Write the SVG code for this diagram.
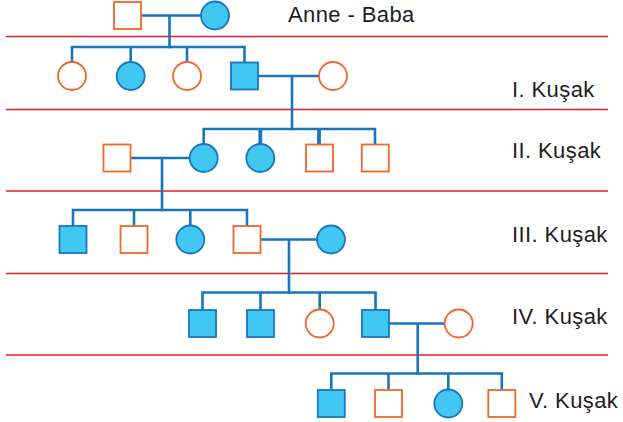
<svg xmlns="http://www.w3.org/2000/svg" width="623" height="422" viewBox="0 0 623 422">
  <style>
    .gen { stroke: #e41f28; stroke-width: 1.5; fill: none; }
    .link { stroke: #1a76bc; stroke-width: 2.6; fill: none; stroke-linecap: square; }
    .thick { stroke: #1a76bc; stroke-width: 3.8; fill: none; }
    .af { fill: #42c6f2; stroke: #1a76bc; stroke-width: 1.8; }
    .un { fill: #ffffff; stroke: #f2662a; stroke-width: 1.8; }
    .label { font-family: "Liberation Sans", Arial, Helvetica, sans-serif; font-size: 22px; letter-spacing: 0.4px; fill: #1f1c1d; }
  </style>
  <defs>
    <rect id="sq" x="-13.5" y="-13.5" width="27" height="27"/>
    <circle id="ci" cx="0" cy="0" r="14"/>
  </defs>

  <!-- generation separators -->
  <g id="separators">
    <line class="gen" x1="6" y1="36.5" x2="608" y2="36.5"/>
    <line class="gen" x1="6" y1="109.5" x2="608" y2="109.5"/>
    <line class="gen" x1="6" y1="191" x2="608" y2="191"/>
    <line class="gen" x1="6" y1="273.5" x2="608" y2="273.5"/>
    <line class="gen" x1="6" y1="355" x2="608" y2="355"/>
  </g>

  <!-- connectors -->
  <g id="connectors">
    <!-- parents -->
    <path class="link" d="M141 15.5 H201 M169.5 15.5 V47"/>
    <path class="link" d="M72 62 V47 H244.5 V62.5 M130.7 47 V62 M187 47 V62"/>
    <!-- generation I -->
    <path class="link" d="M258 76 H319 M292 76 V129"/>
    <path class="link" d="M203.7 144 V129 H375 V144.5"/>
    <path class="thick" d="M260.3 129 V144 M319 129 V144.5"/>
    <!-- generation II -->
    <path class="link" d="M131 158 H190 M162 158 V210"/>
    <path class="link" d="M73 226 V210 H247 V226 M134 210 V226 M190.3 210 V225.5"/>
    <!-- generation III -->
    <path class="link" d="M260.5 239.5 H317 M289 239.5 V292.5"/>
    <path class="link" d="M202.5 310 V292.5 H375.5 V310 M260.5 292.5 V310 M319.7 292.5 V309.5"/>
    <!-- generation IV -->
    <path class="link" d="M389 323.5 H444.7 M417.7 323.5 V373.5"/>
    <path class="link" d="M331.3 390 V373.5 H501.8 V390 M388.5 373.5 V390 M448.3 373.5 V389.5"/>
  </g>

  <!-- parents -->
  <g id="p-father"><use href="#sq" class="un" x="127.5" y="15.5"/></g>
  <g id="p-mother"><use href="#ci" class="af" x="215" y="15.5"/></g>

  <!-- generation I -->
  <g id="g1-1"><use href="#ci" class="un" x="72" y="76"/></g>
  <g id="g1-2"><use href="#ci" class="af" x="130.7" y="76"/></g>
  <g id="g1-3"><use href="#ci" class="un" x="187" y="76"/></g>
  <g id="g1-4"><use href="#sq" class="af" x="244.5" y="76"/></g>
  <g id="g1-spouse"><use href="#ci" class="un" x="333" y="76"/></g>

  <!-- generation II -->
  <g id="g2-spouse"><use href="#sq" class="un" x="117" y="158"/></g>
  <g id="g2-1"><use href="#ci" class="af" x="203.7" y="158"/></g>
  <g id="g2-2"><use href="#ci" class="af" x="260.3" y="158"/></g>
  <g id="g2-3"><use href="#sq" class="un" x="319.5" y="158"/></g>
  <g id="g2-4"><use href="#sq" class="un" x="375.3" y="158"/></g>

  <!-- generation III -->
  <g id="g3-1"><use href="#sq" class="af" x="73" y="239.5"/></g>
  <g id="g3-2"><use href="#sq" class="un" x="134" y="239.5"/></g>
  <g id="g3-3"><use href="#ci" class="af" x="190.3" y="239.5"/></g>
  <g id="g3-4"><use href="#sq" class="un" x="247" y="239.5"/></g>
  <g id="g3-spouse"><use href="#ci" class="af" x="331" y="239.5"/></g>

  <!-- generation IV -->
  <g id="g4-1"><use href="#sq" class="af" x="202.5" y="323.5"/></g>
  <g id="g4-2"><use href="#sq" class="af" x="260.5" y="323.5"/></g>
  <g id="g4-3"><use href="#ci" class="un" x="319.7" y="323.5"/></g>
  <g id="g4-4"><use href="#sq" class="af" x="375.5" y="323.5"/></g>
  <g id="g4-spouse"><use href="#ci" class="un" x="458.7" y="323.5"/></g>

  <!-- generation V -->
  <g id="g5-1"><use href="#sq" class="af" x="331.3" y="403.5"/></g>
  <g id="g5-2"><use href="#sq" class="un" x="388.5" y="403.5"/></g>
  <g id="g5-3"><use href="#ci" class="af" x="448.3" y="403.5"/></g>
  <g id="g5-4"><use href="#sq" class="un" x="501.8" y="403.5"/></g>

  <!-- generation labels -->
  <g id="labels">
    <text class="label" x="288" y="21.7">Anne - Baba</text>
    <text class="label" x="512" y="96.7">I. Kuşak</text>
    <text class="label" x="512" y="157.7">II. Kuşak</text>
    <text class="label" x="512" y="241.7">III. Kuşak</text>
    <text class="label" x="512" y="324.3">IV. Kuşak</text>
    <text class="label" x="529" y="408.3">V. Kuşak</text>
  </g>
</svg>
